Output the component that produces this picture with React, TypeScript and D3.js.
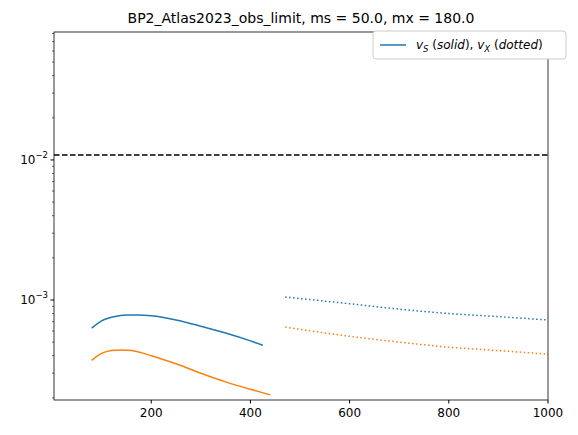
import * as d3 from 'd3';

const blueX = [80, 100, 125, 150, 175, 200, 250, 300, 350, 400, 425];
const blueY = [6.3e-4, 7.1e-4, 7.6e-4, 7.8e-4, 7.8e-4, 7.7e-4, 7.2e-4, 6.5e-4, 5.8e-4, 5.1e-4, 4.75e-4];
const orangeX = [80, 100, 120, 140, 160, 200, 250, 300, 350, 400, 440];
const orangeY = [3.7e-4, 4.15e-4, 4.35e-4, 4.4e-4, 4.35e-4, 4.0e-4, 3.5e-4, 3.0e-4, 2.6e-4, 2.3e-4, 2.1e-4];
const blueDotX = [470, 600, 700, 800, 900, 1000];
const blueDotY = [1.05e-3, 9.4e-4, 8.6e-4, 8.0e-4, 7.6e-4, 7.2e-4];
const orangeDotX = [470, 600, 700, 800, 900, 1000];
const orangeDotY = [6.4e-4, 5.5e-4, 5.0e-4, 4.6e-4, 4.35e-4, 4.1e-4];
const limitY = 1.085e-2;
const xTicks = [200, 400, 600, 800, 1000];

const W = 578, H = 435;
const m = { left: 54, right: 30, top: 32, bottom: 35 };

export default function App() {
  const x = d3.scaleLinear().domain([4, 1000]).range([m.left, W - m.right]);
  const y = d3.scaleLog().domain([1.93e-4, 0.082]).range([H - m.bottom, m.top]);
  const line = (xs: number[], ys: number[]) =>
    d3.line<number>().x((_, i) => x(xs[i])).y(d => y(d)).curve(d3.curveMonotoneX)(ys) || '';
  const minor: number[] = [];
  for (let e = -4; e <= -2; e++) for (let k = 2; k <= 9; k++) {
    const v = k * Math.pow(10, e);
    if (v >= 1.93e-4 && v <= 0.082) minor.push(v);
  }
  const font = 'DejaVu Sans, sans-serif';
  return (
    <svg width={W} height={H} style={{ position: 'absolute', left: 0, top: 0 }} fontFamily={font}>
      <rect width={W} height={H} fill="#fff" />
      <text x={(m.left + W - m.right) / 2} y={23} textAnchor="middle" fontSize={14}>
        BP2_Atlas2023_obs_limit, ms = 50.0, mx = 180.0
      </text>
      <line x1={m.left} x2={W - m.right} y1={y(limitY)} y2={y(limitY)} stroke="#000" strokeWidth={1.5} strokeDasharray="5.5,2.5" />
      <path d={line(blueX, blueY)} fill="none" stroke="#1f77b4" strokeWidth={1.5} />
      <path d={line(orangeX, orangeY)} fill="none" stroke="#ff7f0e" strokeWidth={1.5} />
      <path d={line(blueDotX, blueDotY)} fill="none" stroke="#1f77b4" strokeWidth={1.5} strokeDasharray="1.5,2.5" />
      <path d={line(orangeDotX, orangeDotY)} fill="none" stroke="#ff7f0e" strokeWidth={1.5} strokeDasharray="1.5,2.5" />
      <rect x={m.left} y={m.top} width={W - m.left - m.right} height={H - m.top - m.bottom} fill="none" stroke="#000" strokeWidth={0.8} />
      {xTicks.map(t => (
        <g key={t}>
          <line x1={x(t)} x2={x(t)} y1={H - m.bottom} y2={H - m.bottom + 3.5} stroke="#000" />
          <text x={x(t)} y={H - m.bottom + 17} textAnchor="middle" fontSize={12}>{t}</text>
        </g>
      ))}
      {minor.map(v => (
        <line key={v} x1={m.left - 2} x2={m.left} y1={y(v)} y2={y(v)} stroke="#000" strokeWidth={0.6} />
      ))}
      {[1e-3, 1e-2].map((v, i) => (
        <g key={v}>
          <line x1={m.left - 3.5} x2={m.left} y1={y(v)} y2={y(v)} stroke="#000" />
          <text x={m.left - 6} y={y(v) + 4} textAnchor="end" fontSize={12}>
            10<tspan dy={-6} fontSize={8.5}>{i === 0 ? '−3' : '−2'}</tspan>
          </text>
        </g>
      ))}
      <g>
        <rect x={373} y={31} width={193} height={28} rx={3} fill="#fff" stroke="#ccc" />
        <line x1={380} x2={406} y1={45} y2={45} stroke="#1f77b4" strokeWidth={1.5} />
        <text x={416} y={49} fontSize={12}>
          <tspan fontStyle="italic">v</tspan><tspan fontSize={8.5} dy={3} fontStyle="italic">S</tspan>
          <tspan dy={-3}> (</tspan><tspan fontStyle="italic">solid</tspan><tspan>), </tspan>
          <tspan fontStyle="italic">v</tspan><tspan fontSize={8.5} dy={3} fontStyle="italic">X</tspan>
          <tspan dy={-3}> (</tspan><tspan fontStyle="italic">dotted</tspan><tspan>)</tspan>
        </text>
      </g>
    </svg>
  );
}
